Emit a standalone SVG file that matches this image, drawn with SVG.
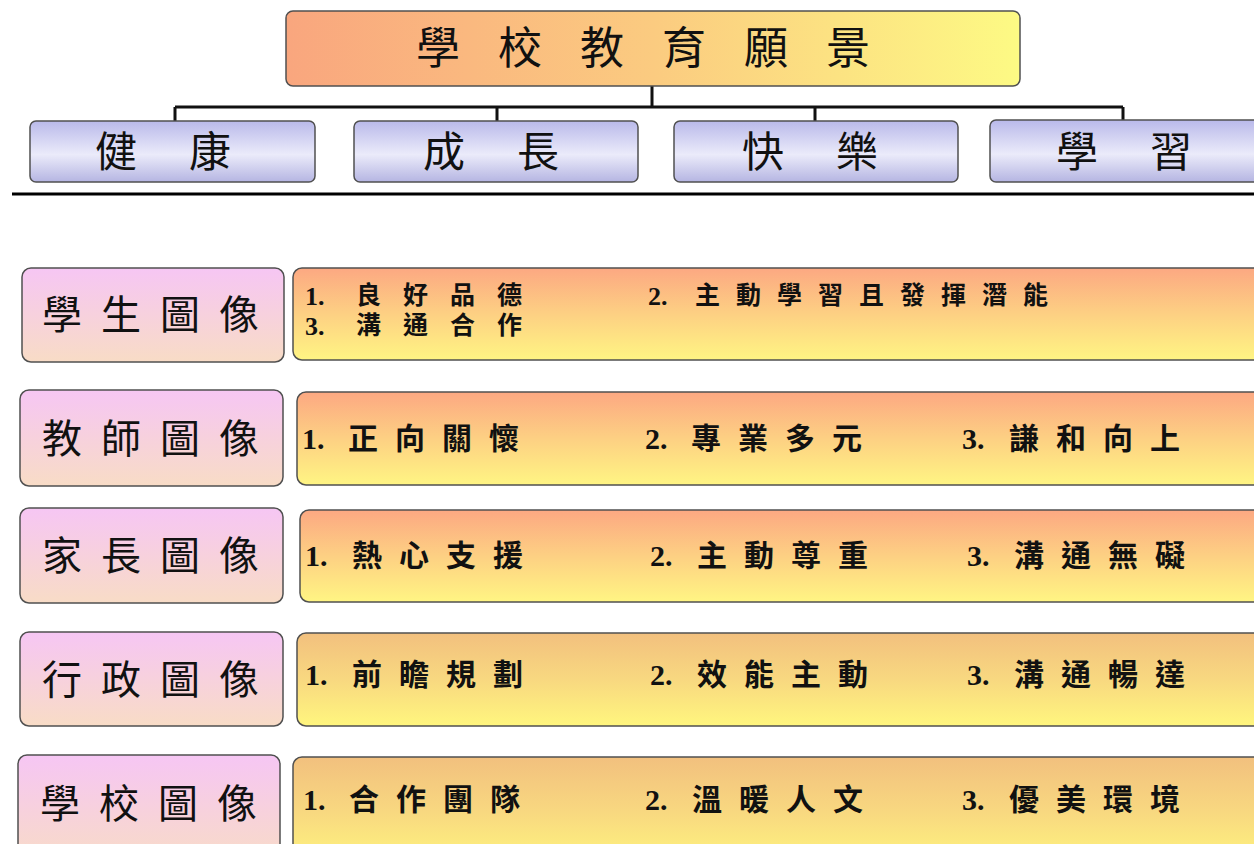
<svg xmlns="http://www.w3.org/2000/svg" width="1254" height="844" viewBox="0 0 1254 844">
<defs>
<linearGradient id="gTop" x1="0" y1="0" x2="1" y2="0">
<stop offset="0" stop-color="#f9a67e"/><stop offset="0.5" stop-color="#fbcb80"/><stop offset="1" stop-color="#fdfa84"/>
</linearGradient>
<linearGradient id="gChild" x1="0" y1="0" x2="0" y2="1">
<stop offset="0" stop-color="#b9b9ea"/><stop offset="0.55" stop-color="#ebebfa"/><stop offset="1" stop-color="#b5b5e2"/>
</linearGradient>
<linearGradient id="gPink" x1="0" y1="0" x2="0" y2="1">
<stop offset="0" stop-color="#f6c6f4"/><stop offset="1" stop-color="#f8dcc6"/>
</linearGradient>
<linearGradient id="gWarm" x1="0" y1="0" x2="0" y2="1">
<stop offset="0" stop-color="#fca882"/><stop offset="0.5" stop-color="#fdd083"/><stop offset="1" stop-color="#fff583"/>
</linearGradient>
<linearGradient id="gTan" x1="0" y1="0" x2="0" y2="1">
<stop offset="0" stop-color="#f2c07e"/><stop offset="0.5" stop-color="#f8d880"/><stop offset="1" stop-color="#fff67e"/>
</linearGradient>
</defs>
<style>
.box{stroke:#505050;stroke-width:1.5}
.title{font-family:"Noto Sans CJK TC",sans-serif;font-size:44px;letter-spacing:38px;fill:#111}
.child{font-family:"Noto Sans CJK TC",sans-serif;font-size:42px;letter-spacing:52px;fill:#111}
.lab{font-family:"Noto Sans CJK TC",sans-serif;font-size:40px;letter-spacing:19px;fill:#111}
.num{font-family:"Liberation Serif",serif;font-size:30px;font-weight:bold;fill:#111}
.cj{font-family:"Noto Sans CJK TC",sans-serif;font-size:30px;font-weight:bold;letter-spacing:17px;fill:#111}
.num1{font-family:"Liberation Serif",serif;font-size:26px;font-weight:bold;fill:#111}
.cj1{font-family:"Noto Sans CJK TC",sans-serif;font-size:25px;font-weight:bold;letter-spacing:22px;fill:#111}
.ln{stroke:#111;stroke-width:3;fill:none}
</style>
<rect width="1254" height="844" fill="#fff"/>

<g id="connectors">
<path class="ln" d="M652 86 V107 M175 107 H1123 M175 107 V121 M497 107 V121 M815 107 V121 M1123 107 V121"/>
<line x1="12" y1="194" x2="1254" y2="194" stroke="#000" stroke-width="3"/>
</g>

<g id="vision">
<rect class="box" x="286" y="11" width="734" height="75" rx="7" fill="url(#gTop)" stroke="#777" stroke-width="1"/>
<text class="title" x="416" y="64">學校教育願景</text>
</g>

<g id="health">
<rect class="box" x="30" y="121" width="285" height="61" rx="6" fill="url(#gChild)" stroke="#666" stroke-width="1"/>
<text class="child" x="95" y="167">健康</text>
</g>
<g id="growth">
<rect class="box" x="354" y="121" width="284" height="61" rx="6" fill="url(#gChild)" stroke="#666" stroke-width="1"/>
<text class="child" x="423" y="167">成長</text>
</g>
<g id="happy">
<rect class="box" x="674" y="121" width="284" height="61" rx="6" fill="url(#gChild)" stroke="#666" stroke-width="1"/>
<text class="child" x="742" y="167">快樂</text>
</g>
<g id="learn">
<rect class="box" x="990" y="120" width="280" height="62" rx="6" fill="url(#gChild)" stroke="#666" stroke-width="1"/>
<text class="child" x="1056" y="167">學習</text>
</g>

<g id="student">
<rect class="box" x="22" y="268" width="262" height="94" rx="9" fill="url(#gPink)"/>
<text class="lab" x="42" y="329">學生圖像</text>
<rect class="box" x="293" y="268" width="975" height="92" rx="9" fill="url(#gWarm)"/>
<text class="num1" x="305" y="305">1.</text><text class="cj1" x="356" y="304">良好品德</text>
<text class="num1" x="648" y="305">2.</text><text class="cj1" x="695" y="304" style="letter-spacing:16px">主動學習且發揮潛能</text>
<text class="num1" x="305" y="335">3.</text><text class="cj1" x="356" y="334">溝通合作</text>
</g>

<g id="teacher">
<rect class="box" x="20" y="390" width="263" height="96" rx="9" fill="url(#gPink)"/>
<text class="lab" x="42" y="453">教師圖像</text>
<rect class="box" x="297" y="392" width="975" height="93" rx="9" fill="url(#gWarm)"/>
<text class="num" x="302" y="449">1.</text><text class="cj" x="348" y="449">正向關懷</text>
<text class="num" x="645" y="449">2.</text><text class="cj" x="691" y="449">專業多元</text>
<text class="num" x="962" y="449">3.</text><text class="cj" x="1009" y="449">謙和向上</text>
</g>

<g id="parent">
<rect class="box" x="20" y="508" width="263" height="95" rx="9" fill="url(#gPink)"/>
<text class="lab" x="42" y="570">家長圖像</text>
<rect class="box" x="300" y="510" width="972" height="92" rx="9" fill="url(#gWarm)"/>
<text class="num" x="305" y="566">1.</text><text class="cj" x="352" y="566">熱心支援</text>
<text class="num" x="650" y="566">2.</text><text class="cj" x="697" y="566">主動尊重</text>
<text class="num" x="967" y="566">3.</text><text class="cj" x="1014" y="566">溝通無礙</text>
</g>

<g id="admin">
<rect class="box" x="20" y="632" width="263" height="94" rx="9" fill="url(#gPink)"/>
<text class="lab" x="42" y="694">行政圖像</text>
<rect class="box" x="297" y="633" width="975" height="93" rx="9" fill="url(#gTan)"/>
<text class="num" x="305" y="685">1.</text><text class="cj" x="352" y="685">前瞻規劃</text>
<text class="num" x="650" y="685">2.</text><text class="cj" x="697" y="685">效能主動</text>
<text class="num" x="967" y="685">3.</text><text class="cj" x="1014" y="685">溝通暢達</text>
</g>

<g id="school">
<rect class="box" x="18" y="755" width="262" height="110" rx="9" fill="url(#gPink)"/>
<text class="lab" x="40" y="818">學校圖像</text>
<rect class="box" x="293" y="757" width="979" height="110" rx="9" fill="url(#gTan)"/>
<text class="num" x="303" y="810">1.</text><text class="cj" x="349" y="810">合作團隊</text>
<text class="num" x="645" y="810">2.</text><text class="cj" x="692" y="810">溫暖人文</text>
<text class="num" x="962" y="810">3.</text><text class="cj" x="1009" y="810">優美環境</text>
</g>
</svg>
